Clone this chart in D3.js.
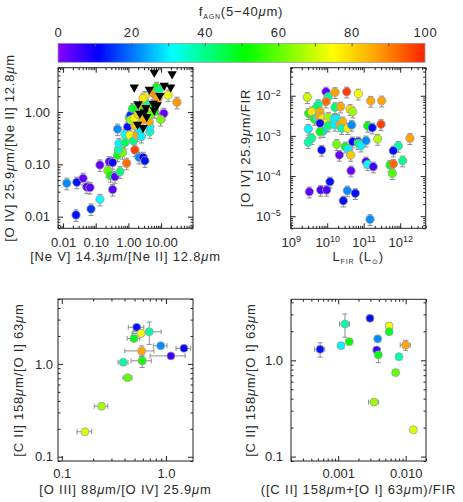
<!DOCTYPE html>
<html>
<head>
<meta charset="utf-8">
<script src="https://cdn.jsdelivr.net/npm/d3@7"></script>
<style>
	body { margin: 0; background: #fff; }
	text { font-family: "Liberation Sans", Arial, sans-serif; fill: #2a2a2a; }
</style>
</head>
<body>
<svg id="chart" width="463" height="502"></svg>
<script>
// colour bar: f_AGN(5-40um)
const fTicks = [0, 20, 40, 60, 80, 100];
const fStops = [0, 11, 31, 51, 75, 87, 100];
const fColors = ["#8800ff", "#0000ff", "#00ffff", "#00ff00", "#ffff00", "#ffa000", "#ff2000"];

// panel 1: [Ne V]/[Ne II] vs [O IV]/[Ne II]
const p1X = [0.013, 0.0264, 0.0411, 0.0532, 0.0669, 0.0249, 0.0717, 0.1345, 0.1345, 0.259, 0.329, 0.234, 0.283, 0.388, 0.329, 0.552, 0.884, 0.467, 0.664, 1.58, 2.11, 2.82, 3.20, 0.490,
	0.467, 0.949, 1.063, 1.168, 0.783, 1.112, 1.411, 0.513, 0.783, 1.849, 2.11, 2.50, 1.58, 2.14, 4.54, 4.54, 4.36, 2.24, 2.54, 3.20, 5.77, 7.27, 8.57, 7.27, 8.12, 16.5, 30.6,
	3.87, 4.54, 6.41, 11.1, 12.2, 9.67, 1.349, 1.168, 1.512, 2.53, 1.98, 2.82, 3.60, 2.82, 5.72, 4.54];
const p1Y = [0.0436, 0.0455, 0.054, 0.037, 0.036, 0.0108, 0.014, 0.0214, 0.097, 0.112, 0.108, 0.076, 0.061, 0.058, 0.033, 0.072, 0.105, 0.15, 0.167, 0.188, 0.136, 0.136, 0.117, 0.19,
	0.47, 0.52, 0.79, 0.87, 0.37, 0.36, 0.28, 0.25, 0.26, 0.36, 0.47, 0.34, 0.55, 0.65, 0.42, 0.52, 0.65, 1.21, 1.36, 1.96, 2.27, 2.96, 2.6, 1.96, 1.8, 2.1, 1.53,
	1.12, 1.09, 1.01, 0.87, 0.94, 0.72, 1.17, 0.70, 0.76, 1.01, 0.90, 0.70, 1.36, 1.82, 1.36, 0.87];
const p1F = [22, 12, 3, 4, 4, 12, 15, 31, 3, 4, 10, 60, 50, 4, 4, 42, 92, 52, 62, 97, 22, 11, 12, 38,
	22, 12, 46, 14, 32, 75, 40, 30, 44, 86, 30, 30, 82, 70, 36, 30, 86, 76, 86, 74, 88, 52, 40, 88, 86, 74, 88,
	97, 74, 50, 97, 3, 62, 48, 66, 74, 56, 80, 85, 40, 78, 48, 60];
const p1Err = 0.25;
// upper limits (black triangles)
const p1LimX = [6.19, 21.8, 1.51, 4.36, 12.5, 19.7, 9.23, 1.98, 5.77, 7.62, 3.44, 6.19, 2.24, 3.63, 3.07, 1.91, 2.82];
const p1LimY = [5.7, 5.3, 2.96, 2.7, 3.2, 2.96, 2.05, 1.42, 1.46, 1.36, 1.21, 1.09, 0.94, 0.81, 0.99, 0.58, 0.50];

// panel 2: L_FIR vs [O IV]/FIR
const p2X = [2.85e9, 9.27e9, 1.07e10, 9.27e9, 1.64e10, 3.42e10, 7.11e10, 1.56e11, 3.11e11, 5.70e9, 4.93e9, 3.11e9, 3.76e9, 6.35e9, 1.64e10, 2.34e10, 4.22e10, 5.0e10,
	4.44e9, 5.25e9, 6.08e9, 7.53e9, 1.07e10, 1.53e10, 1.89e10, 8.71e9, 6.35e9, 7.82e9, 1.07e10, 1.64e10, 2.24e10, 2.66e10, 2.49e10, 3.65e10, 4.69e10, 3.03e9, 6.35e9,
	1.29e11, 1.72e11, 2.98e11, 3.76e9, 3.03e9, 1.82e10, 5.0e10, 7.11e10, 7.11e10, 8.43e10, 1.16e11, 2.42e11, 1.85e12, 3.13e10, 3.78e10, 7.06e9, 8.87e11, 6.47e11,
	2.15e10, 4.41e10, 1.16e11, 1.29e11, 1.83e11, 4.49e10, 5.26e11, 6.47e11, 1.17e12, 6.08e11, 1.19e10, 3.24e9, 6.64e9, 9.68e9, 3.56e10, 5.89e10, 2.76e10, 1.49e11];
const p2Y = [9.16e-3, 1.26e-2, 9.48e-3, 7.11e-3, 1.22e-2, 1.26e-2, 1.12e-2, 7.41e-3, 7.53e-3, 6.12e-3, 4.88e-3, 3.66e-3, 4.01e-3, 4.01e-3, 5.16e-3, 5.35e-3, 4.60e-3, 4.01e-3,
	2.64e-3, 2.84e-3, 3.01e-3, 2.75e-3, 2.91e-3, 2.64e-3, 2.64e-3, 2.06e-3, 2.06e-3, 1.32e-3, 1.79e-3, 1.87e-3, 1.87e-3, 2.26e-3, 1.55e-3, 1.55e-3, 1.87e-3, 1.49e-3, 1.27e-3,
	1.77e-3, 1.60e-3, 1.95e-3, 8.73e-4, 6.93e-4, 6.18e-4, 7.18e-4, 7.18e-4, 6.55e-4, 5.70e-4, 7.60e-4, 8.38e-4, 8.73e-4, 5.38e-4, 4.65e-4, 4.46e-4, 5.61e-4, 4.29e-4,
	3.35e-4, 3.35e-4, 2.28e-4, 1.96e-4, 1.71e-4, 1.36e-4, 1.89e-4, 2.0e-4, 2.42e-4, 1.17e-4, 7.24e-5, 4.08e-5, 4.50e-5, 4.50e-5, 4.33e-5, 3.72e-5, 2.43e-5, 8.38e-6];
const p2F = [70, 3, 40, 92, 87, 97, 74, 86, 87, 38, 45, 52, 78, 86, 42, 86, 80, 66,
	50, 36, 86, 78, 66, 30, 30, 76, 10, 28, 42, 30, 86, 85, 38, 78, 22, 30, 50,
	50, 12, 97, 40, 38, 62, 10, 12, 42, 30, 22, 68, 87, 48, 30, 12, 38, 12,
	3, 82, 5, 32, 6, 3, 52, 93, 40, 58, 12, 3, 5, 5, 22, 12, 12, 22];
const p2Err = 0.3;

// panel 3: [O III]/[O IV] vs [C II]/[O I]
const p3X = [0.524, 0.577, 0.692, 0.493, 0.891, 1.49, 0.585, 1.117, 0.390, 0.593, 0.430, 0.241, 0.167];
const p3Y = [2.48, 2.13, 2.22, 1.88, 1.57, 1.47, 1.38, 1.22, 1.04, 1.08, 0.71, 0.35, 0.186];
const p3F = [12, 74, 38, 50, 22, 10, 86, 6, 38, 52, 60, 66, 72];
const p3XErr = [0.17, 0.18, 0.30, 0.14, 0.15, 0.16, 0.31, 0.37, 0.11, 0.22, 0.10, 0.15, 0.16];
const p3YErr = [0.05, 0.05, 0.27, 0.05, 0.05, 0.05, 0.13, 0.05, 0.05, 0.15, 0.05, 0.08, 0.05];

// panel 4: ([C II]+[O I])/FIR vs [C II]/[O I]
const p4X = [5.4e-4, 1.10e-3, 1.26e-3, 1.46e-3, 2.96e-3, 3.85e-3, 3.72e-3, 3.93e-3, 3.40e-3, 5.7e-3, 5.7e-3, 7.96e-3, 7.1e-3, 0.010, 0.013];
const p4Y = [1.30, 1.42, 2.38, 1.56, 2.73, 1.67, 1.28, 1.14, 0.368, 2.27, 1.98, 1.09, 0.745, 1.44, 0.19];
const p4F = [12, 30, 38, 52, 12, 22, 6, 50, 66, 74, 48, 38, 60, 86, 72];
const p4XErr = [0.17, 0.08, 0.17, 0.08, 0.08, 0.08, 0.08, 0.08, 0.17, 0.10, 0.08, 0.08, 0.08, 0.17, 0.08];
const p4YErr = [0.17, 0.05, 0.27, 0.05, 0.05, 0.05, 0.05, 0.17, 0.08, 0.08, 0.05, 0.05, 0.05, 0.12, 0.05];

const svg = d3.select("#chart");
const colour = d3.scaleLinear().domain(fStops).range(fColors).clamp(true);
const ink = "#222";
const errInk = "#8c8c8c";

// text with sub/superscripts: parts = [[string, kind], ...]; mu drawn in italics
function rich(sel, parts) {
	let off = 0;
	parts.forEach(([s, k]) => {
		const want = k === "sub" ? 3 : (k === "sup" ? -5 : 0);
		const small = k === "sub" || k === "sup";
		s.split(/(\u03bc)/).filter((p) => p.length).forEach((p, j) => {
			sel.append("tspan")
				.attr("dy", j === 0 ? want - off : null)
				.attr("font-size", small ? 7 : null)
				.attr("font-style", p === "\u03bc" ? "italic" : null)
				.text(p);
		});
		off = want;
	});
	return sel;
}

function splitTicks(s) {
	const isMajor = (v) => Math.abs(Math.log10(v) - Math.round(Math.log10(v))) < 1e-6;
	const t = s.ticks();
	return [t.filter(isMajor), t.filter((v) => !isMajor(v))];
}

function supLabels(a) {
	a.selectAll(".tick text").each(function (d) {
		const t = d3.select(this).text("");
		t.append("tspan").text("10");
		t.append("tspan")
			.attr("dy", "-0.5em")
			.attr("font-size", 9)
			.text(String(Math.round(Math.log10(d))).replace("-", "\u2212"));
	});
}

function errV(g, x, y, cx, lo, hi) {
	g.append("line").attr("x1", cx).attr("x2", cx).attr("y1", y(lo)).attr("y2", y(hi));
	g.append("line").attr("x1", cx - 2.5).attr("x2", cx + 2.5).attr("y1", y(lo)).attr("y2", y(lo));
	g.append("line").attr("x1", cx - 2.5).attr("x2", cx + 2.5).attr("y1", y(hi)).attr("y2", y(hi));
}

function errH(g, x, y, cy, lo, hi) {
	g.append("line").attr("y1", cy).attr("y2", cy).attr("x1", x(lo)).attr("x2", x(hi));
	g.append("line").attr("y1", cy - 2.5).attr("y2", cy + 2.5).attr("x1", x(lo)).attr("x2", x(lo));
	g.append("line").attr("y1", cy - 2.5).attr("y2", cy + 2.5).attr("x1", x(hi)).attr("x2", x(hi));
}

function drawPanel(o) {
	const g = svg.append("g");
	const x = d3.scaleLog().domain(o.xDomain).range([o.left, o.left + o.w]);
	const y = d3.scaleLog().domain(o.yDomain).range([o.top + o.h, o.top]);

	const eg = g.append("g").attr("stroke", errInk).attr("stroke-width", 1);
	o.px.forEach((v, i) => {
		const ey = o.yErr[i];
		if (ey > 0) errV(eg, x, y, x(v), o.py[i] * (1 - ey), o.py[i] * (1 + ey));
		const ex = o.xErr ? o.xErr[i] : 0;
		if (ex > 0) errH(eg, x, y, y(o.py[i]), v * (1 - ex), v * (1 + ex));
	});

	g.append("g").selectAll("circle")
		.data(o.px)
		.enter().append("circle")
		.attr("cx", (d) => x(d))
		.attr("cy", (d, i) => y(o.py[i]))
		.attr("r", o.r)
		.attr("fill", (d, i) => colour(o.pf[i]))
		.attr("stroke", "#a0a0a0")
		.attr("stroke-width", 0.8);

	if (o.limX) {
		g.append("g").selectAll("path")
			.data(o.limX)
			.enter().append("path")
			.attr("d", d3.symbol().type(d3.symbolTriangle).size(38))
			.attr("transform", (d, i) => "translate(" + x(d) + "," + y(o.limY[i]) + ") rotate(180)")
			.attr("fill", "#000");
	}

	// IDL style box with inward ticks on all sides
	const [xMaj, xMin] = splitTicks(x);
	const [yMaj, yMin] = splitTicks(y);
	const bottom = o.top + o.h;
	const right = o.left + o.w;
	const ax = (axis, tr) => g.append("g")
		.attr("transform", tr)
		.call(axis)
		.attr("color", ink)
		.attr("font-size", 13)
		.attr("font-family", "Liberation Sans, Arial, sans-serif")
		.call((a) => a.select(".domain").remove());

	const bx = ax(d3.axisBottom(x).tickValues(xMaj).tickSize(-5).tickPadding(o.xPad).tickFormat(o.xFmt || ""), "translate(0," + bottom + ")");
	if (!o.xFmt) supLabels(bx);
	ax(d3.axisBottom(x).tickValues(xMin).tickSize(-2.5).tickFormat(""), "translate(0," + bottom + ")");
	ax(d3.axisTop(x).tickValues(xMaj).tickSize(-5).tickFormat(""), "translate(0," + o.top + ")");
	ax(d3.axisTop(x).tickValues(xMin).tickSize(-2.5).tickFormat(""), "translate(0," + o.top + ")");
	const ly = ax(d3.axisLeft(y).tickValues(yMaj).tickSize(-5).tickPadding(o.yPad).tickFormat(o.yFmt || ""), "translate(" + o.left + ",0)");
	if (!o.yFmt) supLabels(ly);
	ax(d3.axisLeft(y).tickValues(yMin).tickSize(-2.5).tickFormat(""), "translate(" + o.left + ",0)");
	ax(d3.axisRight(y).tickValues(yMaj).tickSize(-5).tickFormat(""), "translate(" + right + ",0)");
	ax(d3.axisRight(y).tickValues(yMin).tickSize(-2.5).tickFormat(""), "translate(" + right + ",0)");

	g.append("rect")
		.attr("x", o.left).attr("y", o.top)
		.attr("width", o.w).attr("height", o.h)
		.attr("fill", "none").attr("stroke", ink).attr("stroke-width", 1);

	rich(g.append("text")
		.attr("x", o.left + o.w / 2).attr("y", o.xTitleY)
		.attr("text-anchor", "middle").attr("font-size", 13).attr("letter-spacing", 0.8), o.xTitle);
	rich(g.append("text")
		.attr("transform", "translate(" + o.yTitleX + "," + (o.top + o.h / 2) + ") rotate(-90)")
		.attr("text-anchor", "middle").attr("font-size", 13).attr("letter-spacing", 0.8), o.yTitle);
}

// colour bar
const cb = { x: 58, y: 43.3, w: 367, h: 19 };
const cScale = d3.scaleLinear().domain([0, 100]).range([cb.x, cb.x + cb.w]);
const grad = svg.append("defs").append("linearGradient").attr("id", "fgrad");
grad.selectAll("stop")
	.data(fStops)
	.enter().append("stop")
	.attr("offset", (d) => d + "%")
	.attr("stop-color", (d) => colour(d));
svg.append("rect")
	.attr("x", cb.x).attr("y", cb.y).attr("width", cb.w).attr("height", cb.h)
	.attr("fill", "url(#fgrad)").attr("stroke", "#999").attr("stroke-width", 0.8);
svg.append("g")
	.attr("transform", "translate(0," + cb.y + ")")
	.call(d3.axisTop(cScale).tickValues(d3.range(10, 100, 10)).tickSize(-3).tickFormat(""))
	.attr("color", "#555")
	.call((a) => a.select(".domain").remove());
svg.append("g")
	.attr("transform", "translate(0," + cb.y + ")")
	.call(d3.axisTop(cScale).tickValues(fTicks).tickSize(0).tickPadding(6).tickFormat(d3.format("d")))
	.attr("font-size", 13)
	.attr("font-family", "Liberation Sans, Arial, sans-serif")
	.attr("letter-spacing", 0.8)
	.call((a) => a.select(".domain").remove());
rich(svg.append("text")
	.attr("x", 241).attr("y", 16)
	.attr("text-anchor", "middle").attr("font-size", 13).attr("letter-spacing", 0.8),
	[["f", null], ["AGN", "sub"], ["(5\u221240\u03bcm)", null]]);

const mu = "\u03bc";
drawPanel({
	left: 58, top: 67.7, w: 135, h: 160.6,
	xDomain: [0.007, 95], yDomain: [0.006, 7],
	px: p1X, py: p1Y, pf: p1F, yErr: p1X.map(() => p1Err), r: 4.2,
	limX: p1LimX, limY: p1LimY,
	xFmt: d3.format(".2f"), yFmt: d3.format(".2f"), xPad: 9, yPad: 8,
	xTitle: [["[Ne V] 14.3" + mu + "m/[Ne II] 12.8" + mu + "m", null]], xTitleY: 261,
	yTitle: [["[O IV] 25.9" + mu + "m/[Ne II] 12.8" + mu + "m", null]], yTitleX: 14
});
drawPanel({
	left: 290.7, top: 67.7, w: 135, h: 160.6,
	xDomain: [1e9, 5e12], yDomain: [5e-6, 0.05],
	px: p2X, py: p2Y, pf: p2F, yErr: p2X.map(() => p2Err), r: 4.2,
	xFmt: null, yFmt: null, xPad: 9, yPad: 10,
	xTitle: [["L", null], ["FIR", "sub"], [" (L", null], ["\u2299", "sub"], [")", null]], xTitleY: 261,
	yTitle: [["[O IV] 25.9" + mu + "m/FIR", null]], yTitleX: 249.5
});
drawPanel({
	left: 58, top: 299, w: 135, h: 162,
	xDomain: [0.092, 1.82], yDomain: [0.09, 5],
	px: p3X, py: p3Y, pf: p3F, xErr: p3XErr, yErr: p3YErr, r: 4,
	xFmt: d3.format(".1f"), yFmt: d3.format(".1f"), xPad: 8, yPad: 5,
	xTitle: [["[O III] 88" + mu + "m/[O IV] 25.9" + mu + "m", null]], xTitleY: 494,
	yTitle: [["[C II] 158" + mu + "m/[O I] 63" + mu + "m", null]], yTitleX: 22.5
});
drawPanel({
	left: 291, top: 299.3, w: 135, h: 161.7,
	xDomain: [2e-4, 0.02], yDomain: [0.09, 4.3],
	px: p4X, py: p4Y, pf: p4F, xErr: p4XErr, yErr: p4YErr, r: 4,
	xFmt: d3.format(".3f"), yFmt: d3.format(".1f"), xPad: 8, yPad: 8,
	xTitle: [["([C II] 158" + mu + "m+[O I] 63" + mu + "m)/FIR", null]], xTitleY: 494,
	yTitle: [["[C II] 158" + mu + "m/[O I] 63" + mu + "m", null]], yTitleX: 254.5
});
</script>
</body>
</html>
